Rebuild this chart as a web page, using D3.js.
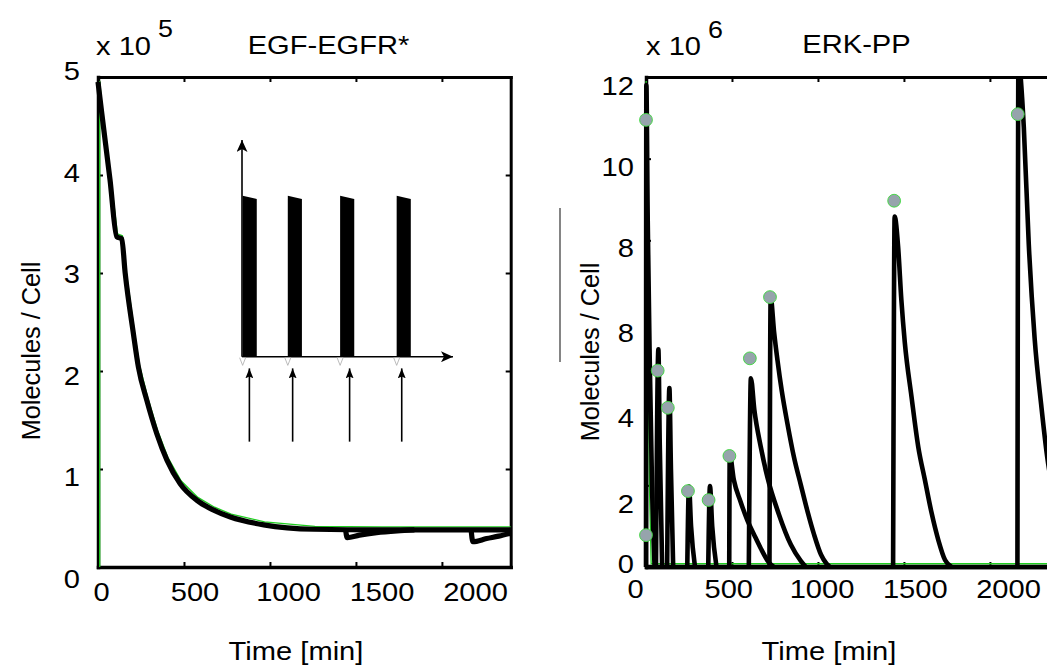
<!DOCTYPE html>
<html><head><meta charset="utf-8">
<script src="https://cdn.jsdelivr.net/npm/d3@7"></script>
<style>
html,body{margin:0;padding:0;background:#fff;}
svg{display:block;}
text{font-family:"Liberation Sans",Arial,sans-serif;fill:#000;}
</style></head><body>
<svg id="chart" width="1047" height="665"></svg>
<script>
// ---------------- DATA ----------------
const xTickValues = [0, 500, 1000, 1500, 2000];
const xTickLabels = ["0", "500", "1000", "1500", "2000"];
const egfrYTickValues = [0, 1, 2, 3, 4, 5];
const egfrYTickLabels = ["0", "1", "2", "3", "4", "5"];
const erkYTickValues = [0, 2, 4, 6, 8, 10, 12];
const erkYTickLabels = ["0", "2", "4", "8", "8", "10", "12"];

// EGF-EGFR* (x 10^5) – main simulated trace
const egfrTime  = [0, 22, 70, 109, 138, 158, 206, 235, 284, 342, 401, 478, 576, 673, 770, 964, 1256, 1645, 2400];
const egfrValue = [4.95, 4.63, 3.95, 3.37, 3.35, 3.00, 2.38, 2.04, 1.70, 1.36, 1.09, 0.85, 0.68, 0.58, 0.51, 0.43, 0.385, 0.378, 0.378];
// re-stimulation traces
const egfrDip1Time  = [1440, 1449, 1520, 1620, 1740, 1840];
const egfrDip1Value = [0.378, 0.30, 0.325, 0.350, 0.368, 0.378];
const egfrDip2Time  = [2170, 2180, 2260, 2330, 2400];
const egfrDip2Value = [0.378, 0.258, 0.29, 0.315, 0.345];
// thin green reference trace
const egfrFitTime  = [10, 10, 25, 74, 113, 142, 163, 211, 240, 289, 347, 406, 483, 581, 678, 775, 969, 1261, 1650, 2400];
const egfrFitValue = [0, 4.96, 4.66, 3.98, 3.40, 3.38, 3.03, 2.41, 2.07, 1.73, 1.39, 1.12, 0.88, 0.71, 0.61, 0.54, 0.46, 0.415, 0.41, 0.41];

// inset (schematic, arbitrary units)
const insetPulseStart = [0.3, 21.7, 46.5, 73.3];
const insetPulseWidth = [6.7, 6.7, 6.7, 6.7];
const insetPulseTopLeft = [0.743, 0.743, 0.743, 0.743];
const insetPulseTopRight = [0.728, 0.728, 0.728, 0.728];
const insetArrowX = [3.5, 24, 51, 75.7];

// ERK-PP (x 10^6) – pulse response traces [time, value]
const erkPulse1  = [[0,0],[2,11.8],[10,8.5],[22,5],[35,2],[50,0]];
const erkPulse2  = [[58,0],[72,5.33],[80,3],[94,0]];
const erkPulse3  = [[123,0],[136,4.38],[145,2.4],[158,0]];
const erkPulse4  = [[240,0],[250,1.97],[262,1.0],[285,0]];
const erkPulse5  = [[362,0],[372,1.98],[385,1.0],[410,0]];
const erkPulse6  = [[484,0],[487,2.75],[511,2.13],[550,1.6],[589,1.15],[630,0.78],[667,0.46],[713,0.12],[745,0]];
const erkPulse7  = [[598,0],[610,4.62],[630,3.85],[667,2.95],[706,2.2],[772,1.3],[842,0.55],[900,0.15],[930,0]];
const erkPulse8  = [[718,0],[725,6.6],[745,5.75],[765,5.05],[790,4.3],[823,3.5],[860,2.7],[901,2.0],[940,1.35],[977,0.8],[1018,0.3],[1050,0.08],[1070,0]];
const erkPulse9  = [[1437,0],[1446,8.58],[1466,7.85],[1485,6.54],[1505,5.5],[1544,4.17],[1583,2.95],[1622,2.13],[1661,1.32],[1700,0.66],[1739,0.17],[1778,0]];
const erkPulse10 = [[2160,0],[2166,12.6],[2175,12.2],[2197,10.78],[2226,7.9],[2260,5.6],[2300,3.9],[2333,2.7],[2400,1.3]];
const erkBaseline = [[0,0],[2400,0]];
const erkFit = [[1,11.9],[4,9.5],[20,2],[30,0.08],[2400,0.08]];
// measured ERK-PP points
const erkDataTime  = [0, 0, 68, 127, 244, 364, 485, 604, 721, 1443, 2162];
const erkDataValue = [0.78, 10.95, 4.81, 3.90, 1.86, 1.64, 2.72, 5.11, 6.61, 8.97, 11.09];

// ---------------- DRAWING ----------------
const svg = d3.select("#chart");
const SX = 1.12;  // horizontal text stretch of the original
const FS = 26;

function hText(sel, x, y, str, anchor, size) {
  return sel.append("text")
    .attr("transform", `translate(${x},${y}) scale(${SX},1)`)
    .attr("text-anchor", anchor)
    .style("font-size", size + "px")
    .text(str);
}
function styleFrame(g, w) {
  g.select(".domain").attr("stroke", "#000").attr("stroke-width", w).attr("stroke-linecap", "square");
  g.selectAll(".tick line").attr("stroke", "#000").attr("stroke-width", 2);
}
function labelAxis(g) {
  g.attr("font-size", null).attr("font-family", null);
  g.select(".domain").remove();
  g.selectAll(".tick line").remove();
  g.selectAll(".tick text").style("font-size", FS + "px").attr("transform", `scale(${SX},1)`);
}

const defs = svg.append("defs");
defs.append("marker").attr("id", "ahBig").attr("viewBox", "0 0 12 11")
  .attr("refX", 12).attr("refY", 5.5).attr("markerWidth", 12).attr("markerHeight", 11)
  .attr("markerUnits", "userSpaceOnUse").attr("orient", "auto")
  .append("path").attr("d", "M0,0 L12,5.5 L0,11 L3,5.5 z").attr("fill", "#000");
defs.append("marker").attr("id", "ahSmall").attr("viewBox", "0 0 10 8")
  .attr("refX", 10).attr("refY", 4).attr("markerWidth", 10).attr("markerHeight", 8)
  .attr("markerUnits", "userSpaceOnUse").attr("orient", "auto")
  .append("path").attr("d", "M0,0 L10,4 L0,8 L2,4 z").attr("fill", "#000");
defs.append("clipPath").attr("id", "clipR").append("rect")
  .attr("x", 600).attr("y", 78).attr("width", 500).attr("height", 520);

// ===== LEFT PANEL: EGF-EGFR* =====
const xL = d3.scaleLinear().domain([0, 2400]).range([98, 510.7]);
const yL = d3.scaleLinear().domain([0, 5]).range([567, 77]);
const L = svg.append("g");

styleFrame(L.append("g").attr("transform", "translate(0,567)")
  .call(d3.axisBottom(xL).tickValues([500,1000,1500,2000]).tickSize(-5).tickSizeOuter(0).tickFormat("")), 3.5);
styleFrame(L.append("g").attr("transform", "translate(0,77)")
  .call(d3.axisTop(xL).tickValues([500,1000,1500,2000]).tickSize(-5).tickSizeOuter(0).tickFormat("")), 3);
styleFrame(L.append("g").attr("transform", "translate(98,0)")
  .call(d3.axisLeft(yL).tickValues([1,2,3,4]).tickSize(-5).tickSizeOuter(0).tickFormat("")), 3.5);
styleFrame(L.append("g").attr("transform", "translate(510.7,0)")
  .call(d3.axisRight(yL).tickValues([1,2,3,4]).tickSize(-5).tickSizeOuter(0).tickFormat("")), 3);

const xLabL = d3.scaleLinear().domain([0, 2000]).range([101, 475]);
const gxl = L.append("g").attr("transform", "translate(0,601)")
  .call(d3.axisBottom(xLabL).tickValues(xTickValues).tickFormat((d, i) => xTickLabels[i]).tickSize(0).tickPadding(0));
labelAxis(gxl); gxl.selectAll(".tick text").attr("y", 0).attr("dy", 0);
const yLabL = d3.scaleLinear().domain([0, 5]).range([578, 70.5]);
const gyl = L.append("g").attr("transform", "translate(80,0)")
  .call(d3.axisLeft(yLabL).tickValues(egfrYTickValues).tickFormat((d, i) => egfrYTickLabels[i]).tickSize(0).tickPadding(0));
labelAxis(gyl); gyl.selectAll(".tick text").attr("x", 0).attr("dy", "0.36em");

const lineL = d3.line().x(d => xL(d[0])).y(d => yL(d[1]));
L.append("path").datum(d3.zip(egfrFitTime, egfrFitValue))
  .attr("d", lineL).attr("fill", "none").attr("stroke", "#1fcf1f").attr("stroke-width", 1.3);
const lineLs = d3.line().x(d => xL(d[0])).y(d => yL(d[1])).curve(d3.curveMonotoneX);
[[egfrTime, egfrValue], [egfrDip1Time, egfrDip1Value], [egfrDip2Time, egfrDip2Value]].forEach(([t, v]) => {
  L.append("path").datum(d3.zip(t, v)).attr("d", lineLs)
    .attr("fill", "none").attr("stroke", "#000").attr("stroke-width", 5.2).attr("stroke-linejoin", "round");
});

// inset schematic
const ix = d3.scaleLinear().domain([0, 100]).range([242, 453]);
const iy = d3.scaleLinear().domain([0, 1]).range([356.7, 140]);
const I = L.append("g");
insetPulseStart.forEach((s, i) => {
  const w = insetPulseWidth[i];
  I.append("path")
    .attr("d", `M${ix(s)},${iy(0)} L${ix(s)},${iy(insetPulseTopLeft[i])} L${ix(s + w)},${iy(insetPulseTopRight[i])} L${ix(s + w)},${iy(0)} Z`)
    .attr("fill", "#000");
});
I.append("line").attr("x1", ix(0)).attr("y1", iy(0)).attr("x2", ix(0)).attr("y2", iy(1))
  .attr("stroke", "#000").attr("stroke-width", 1.6).attr("marker-end", "url(#ahBig)");
I.append("line").attr("x1", ix(0)).attr("y1", iy(0)).attr("x2", ix(100)).attr("y2", iy(0))
  .attr("stroke", "#000").attr("stroke-width", 1.6).attr("marker-end", "url(#ahBig)");
insetPulseStart.forEach(s => {
  I.append("path").attr("d", `M${ix(s) - 3},${iy(0) + 1} L${ix(s)},${iy(-0.04)} L${ix(s) + 3},${iy(0) + 1}`)
    .attr("fill", "#fff").attr("stroke", "#aaa").attr("stroke-width", 0.8);
});
insetArrowX.forEach(a => {
  I.append("line").attr("x1", ix(a)).attr("y1", iy(-0.392)).attr("x2", ix(a)).attr("y2", iy(-0.054))
    .attr("stroke", "#000").attr("stroke-width", 1.6).attr("marker-end", "url(#ahSmall)");
});

hText(L, 96, 55, "x 10", "start", FS);
hText(L, 158, 37, "5", "start", 24);
hText(L, 328.5, 54, "EGF-EGFR*", "middle", FS);
hText(L, 296, 660, "Time [min]", "middle", FS);
L.append("text").attr("transform", "translate(40,351) rotate(-90)").attr("text-anchor", "middle")
  .style("font-size", "25.3px").text("Molecules / Cell");

// ===== RIGHT PANEL: ERK-PP =====
const xR = d3.scaleLinear().domain([0, 2400]).range([646, 1058.7]);
const yR = d3.scaleLinear().domain([0, 12]).range([567, 77]);
const R = svg.append("g");

styleFrame(R.append("g").attr("transform", "translate(0,77)")
  .call(d3.axisTop(xR).tickValues([500,1000,1500,2000]).tickSize(-5).tickSizeOuter(0).tickFormat("")), 3);
styleFrame(R.append("g").attr("transform", "translate(0,567)")
  .call(d3.axisBottom(xR).tickValues([500,1000,1500,2000]).tickSize(-5).tickSizeOuter(0).tickFormat("")), 3.5);
styleFrame(R.append("g").attr("transform", "translate(646,0)")
  .call(d3.axisLeft(yR).tickValues([2,4,6,8,10]).tickSize(-5).tickSizeOuter(0).tickFormat("")), 3.5);

const xLabR = d3.scaleLinear().domain([0, 2000]).range([635, 1008]);
const gxr = R.append("g").attr("transform", "translate(0,598)")
  .call(d3.axisBottom(xLabR).tickValues(xTickValues).tickFormat((d, i) => xTickLabels[i]).tickSize(0).tickPadding(0));
labelAxis(gxr); gxr.selectAll(".tick text").attr("y", 0).attr("dy", 0);
const yLabR = d3.scaleLinear().domain([0, 2, 8, 12]).range([563, 503, 246.7, 85]);
const gyr = R.append("g").attr("transform", "translate(634,0)")
  .call(d3.axisLeft(yLabR).tickValues(erkYTickValues).tickFormat((d, i) => erkYTickLabels[i]).tickSize(0).tickPadding(0));
labelAxis(gyr); gyr.selectAll(".tick text").attr("x", 0).attr("dy", "0.36em");

const D = R.append("g").attr("clip-path", "url(#clipR)");
const lineR = d3.line().x(d => xR(d[0])).y(d => yR(d[1]));
const lineRs = d3.line().x(d => xR(d[0])).y(d => yR(d[1])).curve(d3.curveMonotoneX);
D.append("path").datum(erkFit).attr("d", lineR).attr("fill", "none").attr("stroke", "#1fcf1f").attr("stroke-width", 1.3);
[erkPulse1, erkPulse2, erkPulse3, erkPulse4, erkPulse5, erkPulse6, erkPulse7, erkPulse8, erkPulse9, erkPulse10, erkBaseline]
  .forEach(p => {
    D.append("path").datum(p).attr("d", lineRs).attr("fill", "none")
      .attr("stroke", "#000").attr("stroke-width", 4.6).attr("stroke-linejoin", "round");
  });
D.selectAll("circle.pt").data(d3.zip(erkDataTime, erkDataValue)).enter().append("circle")
  .attr("class", "pt").attr("cx", d => xR(d[0])).attr("cy", d => yR(d[1])).attr("r", 6.4)
  .attr("fill", "#96a4ac").attr("stroke", "#3ad83a").attr("stroke-width", 0.9);

hText(R, 646, 55, "x 10", "start", FS);
hText(R, 708, 38, "6", "start", 24);
hText(R, 856.5, 53, "ERK-PP", "middle", FS);
hText(R, 829, 660, "Time [min]", "middle", FS);
R.append("text").attr("transform", "translate(599,352) rotate(-90)").attr("text-anchor", "middle")
  .style("font-size", "25.3px").text("Molecules / Cell");
R.append("line").attr("x1", 560).attr("x2", 560).attr("y1", 208).attr("y2", 362)
  .attr("stroke", "#333").attr("stroke-width", 1.2);
</script>
</body></html>
